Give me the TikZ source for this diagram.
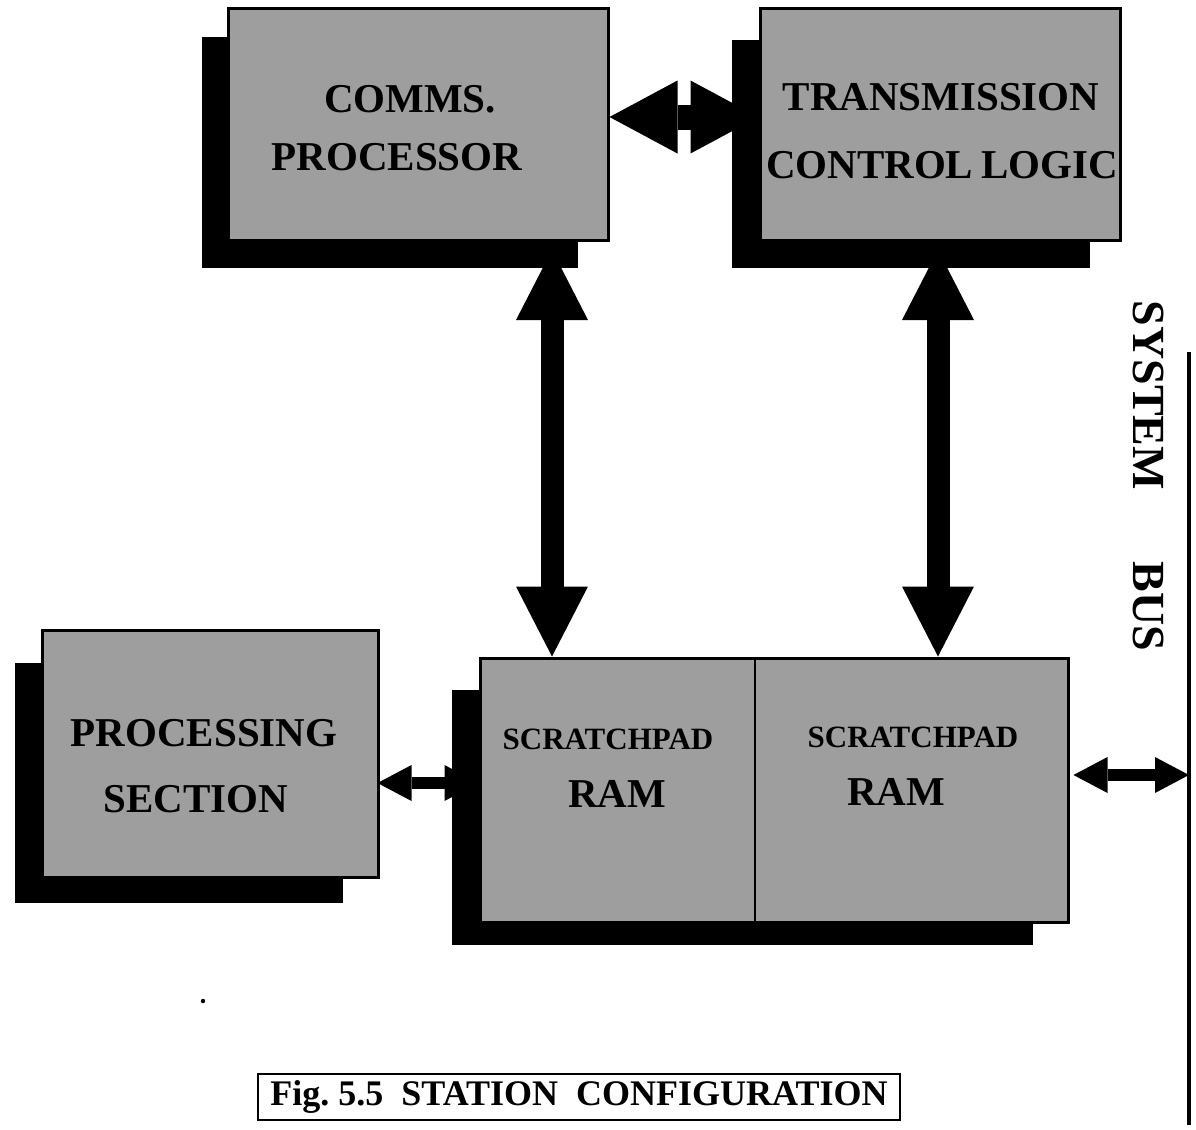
\documentclass[tikz,border=0pt]{standalone}
\usepackage{fontspec}
\setmainfont{Liberation Serif}
\usetikzlibrary{arrows.meta,calc}
\definecolor{panelgray}{gray}{0.62}
\begin{document}
\begin{tikzpicture}[x=0.5pt,y=-0.5pt,
  front/.style={draw=black,line width=1.5pt,fill=panelgray,inner sep=0pt},
  shade/.style={fill=black,inner sep=0pt,outer sep=0pt},
  lbl/.style={font=\fontsize{20.5}{24}\selectfont\bfseries,inner sep=0pt,anchor=base},
  sublbl/.style={font=\fontsize{15.5}{18}\selectfont\bfseries,inner sep=0pt,anchor=base},
  widelink/.style={line width=12.5pt,
    {Triangle[length=34pt,width=36.5pt,line width=0pt]}-{Triangle[length=34pt,width=36.5pt,line width=0pt]}},
  riserlink/.style={line width=11.5pt,
    {Triangle[length=35pt,width=36pt,line width=0pt]}-{Triangle[length=35pt,width=36pt,line width=0pt]}},
  thinlink/.style={line width=6pt,
    {Triangle[length=17pt,width=18pt,line width=0pt]}-{Triangle[length=17pt,width=18pt,line width=0pt]}}]
\useasboundingbox (0,0) rectangle (1196,1130);

% drop shadows
\node[shade,minimum width=188pt,minimum height=115.5pt] (cshadow) at (390,152.5) {};
\node[shade,minimum width=179pt,minimum height=114pt] (tshadow) at (911,154) {};
\node[shade,minimum width=164pt,minimum height=120pt] (pshadow) at (179,783) {};
\node[shade,minimum width=290.5pt,minimum height=127.5pt] (rshadow) at (742.5,817.5) {};

% blocks
\node[front,minimum width=190pt,minimum height=116pt] (comms) at (418,124) {};
\node[front,minimum width=180pt,minimum height=116pt] (tcl) at (940,124) {};
\node[front,minimum width=168pt,minimum height=123.5pt] (proc) at (210,753.5) {};
\node[front,minimum width=294pt,minimum height=132pt] (ram) at (774,790) {};
\coordinate (xdiv) at (755,0);
\draw[line width=0.75pt] (xdiv |- ram.north) -- (xdiv |- ram.south);

% block labels
\node[lbl] (commsA) at (410,112) {COMMS.};
\node[lbl] (commsB) at (397,170) {PROCESSOR};
\node[lbl] (tclA) at (941,110) {TRANSMISSION};
\node[lbl] (tclB) at (942,178) {CONTROL\hspace{4pt}LOGIC};
\node[lbl] (procA) at (204,746) {PROCESSING};
\node[lbl] (procB) at (196,812) {SECTION};
\node[sublbl] (ramLA) at (608,749) {SCRATCHPAD};
\node[lbl] (ramLB) at (617,807) {RAM};
\node[sublbl] (ramRA) at (913,747) {SCRATCHPAD};
\node[lbl] (ramRB) at (896,805) {RAM};

% system bus
\coordinate (bustop) at (1189,352);
\coordinate (busbot) at (1189,1125);
\draw[line width=2pt] (bustop) -- (busbot);
\node[font=\fontsize{23}{26}\selectfont\bfseries,rotate=-90,inner sep=0pt] (buslbl) at (1148,476) {SYSTEM\hspace{36pt}BUS};

% links
\coordinate (yT) at (0,117);
\coordinate (xL) at (552,0);
\coordinate (xR) at (938,0);
\coordinate (yP) at (0,783);
\coordinate (yB) at (0,775);
\draw[widelink] (comms.east |- yT) -- (tcl.west |- yT);
\draw[riserlink] ($(xL |- cshadow.south)+(0,-18)$) -- (xL |- ram.north);
\draw[riserlink] ($(xR |- tshadow.south)+(0,-18)$) -- (xR |- ram.north);
\draw[thinlink] ($(proc.east |- yP)+(-2,0)$) -- (ram.west |- yP);
\draw[thinlink] ($(ram.east |- yB)+(4,0)$) -- (bustop |- yB);

% caption
\node[draw=black,line width=1.1pt,minimum width=321pt,minimum height=23pt,inner sep=0pt,
  font=\fontsize{18}{21}\selectfont\bfseries] (caption) at (579,1097)
  {Fig.~5.5\hspace{9pt}STATION\hspace{9pt}CONFIGURATION\hspace{4pt}};

% stray mark
\fill (203,1001) circle (1.1pt);
\end{tikzpicture}
\end{document}
